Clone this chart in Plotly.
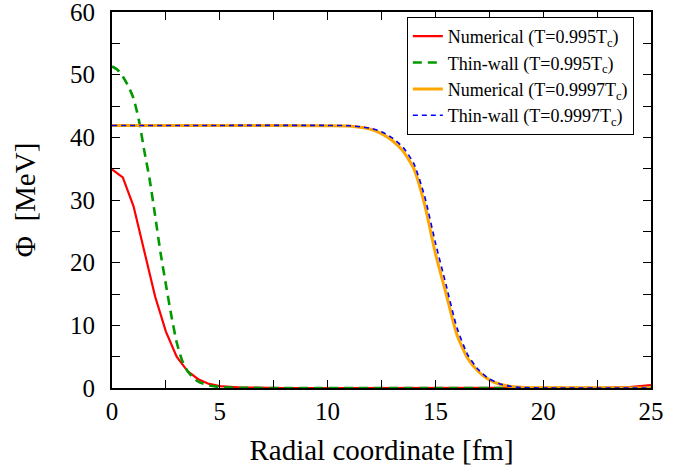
import plotly.graph_objects as go

# Numerical, T = 0.995 Tc
r_num1 = [0, 0.5, 1.0, 1.5, 2.0, 2.5, 3.0, 3.5, 4.0, 4.5, 5.0, 6.0, 7.0, 8.0, 10, 15, 20, 22, 23, 24, 25]
phi_num1 = [34.9, 33.6, 29.0, 21.8, 14.6, 9.0, 5.0, 2.7, 1.4, 0.65, 0.3, 0.08, 0.02, 0, 0, 0, 0, 0, 0.05, 0.15, 0.45]

# Thin-wall, T = 0.995 Tc
r_tw1 = [0, 0.25, 0.5, 0.75, 1.0, 1.25, 1.5, 1.75, 2.0, 2.25, 2.5, 2.75, 3.0, 3.25, 3.5, 3.75, 4.0, 4.5, 5.0, 6.0, 8.0, 25]
phi_tw1 = [51.3, 50.8, 49.7, 48.2, 46.2, 42.7, 37.8, 33.2, 27.5, 21.6, 16.5, 11.6, 7.3, 4.4, 2.7, 1.7, 1.0, 0.4, 0.15, 0.03, 0, 0]

# Numerical, T = 0.9997 Tc
r_num2 = [0, 5, 10, 11, 11.5, 12, 12.5, 13, 13.5, 14, 14.5, 15, 15.5, 16, 16.5, 17, 17.5, 18, 18.5, 19, 20, 25]
phi_num2 = [41.9, 41.9, 41.85, 41.8, 41.6, 41.3, 40.6, 39.5, 37.8, 35.0, 29.3, 21.5, 15.0, 8.5, 4.7, 2.6, 1.3, 0.6, 0.25, 0.1, 0.02, 0]

# Thin-wall, T = 0.9997 Tc
r_tw2 = [0, 5, 10, 11, 11.5, 12, 12.5, 13, 13.5, 14, 14.5, 15, 15.5, 16, 16.5, 17, 17.5, 18, 18.5, 19, 20, 25]
phi_tw2 = [41.9, 41.9, 41.9, 41.85, 41.7, 41.45, 40.9, 39.9, 38.4, 35.8, 30.6, 23.2, 16.4, 9.6, 5.3, 2.9, 1.45, 0.65, 0.25, 0.08, 0, 0]

names = ["Numerical (T=0.995T<sub>c</sub>)", "Thin-wall (T=0.995T<sub>c</sub>)",
         "Numerical (T=0.9997T<sub>c</sub>)", "Thin-wall (T=0.9997T<sub>c</sub>)"]

x_ticks = [0, 5, 10, 15, 20, 25]
y_ticks = [0, 10, 20, 30, 40, 50, 60]

FONT = "Liberation Serif"

fig = go.Figure()
fig.add_trace(go.Scatter(x=r_num1, y=phi_num1, mode="lines", name=names[0],
                         line=dict(color="#ff0000", width=2.2)))
fig.add_trace(go.Scatter(x=r_tw1, y=phi_tw1, mode="lines", name=names[1],
                         line=dict(color="#009900", width=2.6, dash="9px,6px", shape="spline", smoothing=0.6)))
fig.add_trace(go.Scatter(x=r_num2, y=phi_num2, mode="lines", name=names[2],
                         line=dict(color="#ffa500", width=3, shape="spline", smoothing=0.6)))
fig.add_trace(go.Scatter(x=r_tw2, y=phi_tw2, mode="lines", name=names[3],
                         line=dict(color="#0000ff", width=1.6, dash="5px,4px", shape="spline", smoothing=0.6)))

axis_common = dict(showline=True, linecolor="black", linewidth=2, mirror="ticks",
                   ticks="inside", ticklen=8, tickwidth=1.2, tickcolor="black",
                   showgrid=False, zeroline=False, automargin=False,
                   ticklabeloverflow="allow",
                   tickfont=dict(family=FONT, size=25, color="black"))

fig.update_xaxes(range=[0, 25], tickvals=x_ticks,
                 minor=dict(dtick=2.5, ticks="inside", ticklen=8, tickwidth=1.2, tickcolor="black", showgrid=False),
                 title=dict(text="Radial coordinate [fm]", font=dict(family=FONT, size=29, color="black"), standoff=16),
                 **axis_common)
fig.update_yaxes(range=[0, 60], tickvals=y_ticks, ticklabelstandoff=10,
                 minor=dict(dtick=5, ticks="inside", ticklen=8, tickwidth=1.2, tickcolor="black", showgrid=False),
                 title=dict(text="Φ  [MeV]", font=dict(family=FONT, size=29, color="black"), standoff=26),
                 **axis_common)

fig.update_layout(
    width=688, height=474,
    margin=dict(l=112, r=37, t=12, b=86),
    plot_bgcolor="white", paper_bgcolor="white",
    font=dict(family=FONT, color="black"),
    legend=dict(x=0.547, y=0.987, xanchor="left", yanchor="top",
                bgcolor="white", bordercolor="black", borderwidth=1,
                font=dict(family=FONT, size=18, color="black"),
                tracegroupgap=0),
)

fig.write_html("out.html")
